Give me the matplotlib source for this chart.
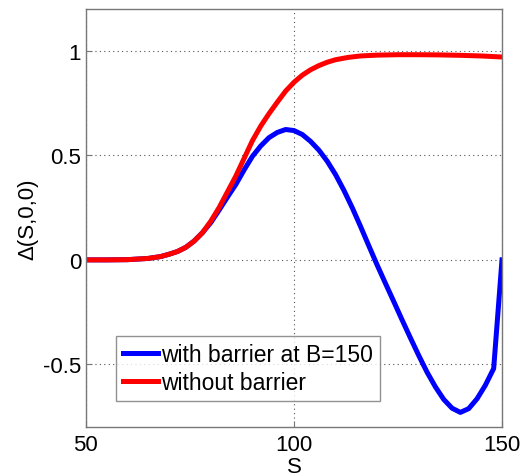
import matplotlib
matplotlib.use("Agg")
import matplotlib.pyplot as plt

plt.rcParams['font.family'] = ['Liberation Sans', 'DejaVu Sans']

# Delta of the option at t=0 as a function of the spot price S
s_vanilla = [50, 55, 60, 65, 68, 70, 72, 74, 76, 78, 80, 82, 84, 86, 88, 90,
             92, 94, 96, 98, 100, 102, 104, 106, 108, 110, 113, 116, 120,
             125, 130, 135, 140, 145, 150]
delta_vanilla = [0.0, 0.0, 0.001, 0.007, 0.016, 0.027, 0.04, 0.06, 0.09, 0.13,
                 0.185, 0.25, 0.325, 0.40, 0.485, 0.57, 0.64, 0.70, 0.755, 0.808,
                 0.85, 0.884, 0.91, 0.93, 0.946, 0.958, 0.969, 0.976, 0.98,
                 0.982, 0.982, 0.981, 0.979, 0.976, 0.971]

s_barrier = [50, 55, 60, 65, 68, 70, 72, 74, 76, 78, 80, 82, 84, 86, 88, 90,
             92, 94, 96, 98, 100, 102, 104, 106, 108, 110, 112, 114, 116, 118,
             120, 122, 124, 126, 128, 130, 132, 134, 136, 138, 140, 142, 144,
             146, 148, 150]
delta_barrier = [0.0, 0.0, 0.001, 0.007, 0.016, 0.027, 0.04, 0.06, 0.09, 0.13,
                 0.178, 0.238, 0.30, 0.36, 0.43, 0.495, 0.545, 0.585, 0.61, 0.624,
                 0.619, 0.60, 0.567, 0.525, 0.472, 0.408, 0.333, 0.25, 0.16, 0.067,
                 -0.025, -0.113, -0.20, -0.288, -0.374, -0.458, -0.538, -0.608, -0.668,
                 -0.71, -0.73, -0.712, -0.665, -0.60, -0.52, 0.0]

x_ticks = [50, 100, 150]
y_ticks = [-0.5, 0, 0.5, 1]
y_tick_labels = ['-0.5', '0', '0.5', '1']

fig = plt.figure(figsize=(5.24, 4.77), dpi=100)
ax = fig.add_axes([0.164, 0.1027, 0.794, 0.876])

ax.plot(s_barrier, delta_barrier, color='#0000ff', lw=3.6,
        label='with barrier at B=150', solid_joinstyle='round')
ax.plot(s_vanilla, delta_vanilla, color='#ff0000', lw=3.6,
        label='without barrier', solid_joinstyle='round')

ax.set_xlim(50, 150)
ax.set_ylim(-0.8, 1.2)
ax.set_xticks(x_ticks)
ax.set_xticklabels([str(t) for t in x_ticks])
ax.set_yticks(y_ticks)
ax.set_yticklabels(y_tick_labels)

ax.grid(True, linestyle=(0, (1, 3)), color='#555555', lw=0.8)
ax.tick_params(direction='in', length=4, width=0.8, color='#777777',
               labelsize=16)
ax.tick_params(axis='x', pad=5)
ax.tick_params(axis='y', pad=3.5)
for sp in ax.spines.values():
    sp.set_color('#777777')
    sp.set_linewidth(1.0)

ax.set_xlabel('S', fontsize=16, labelpad=0.5)
ax.set_ylabel('Δ(S,0,0)', fontsize=16, labelpad=3)

leg = ax.legend(loc='lower left', bbox_to_anchor=(0.072, 0.063), fontsize=16.5,
                frameon=True, fancybox=False, handlelength=1.55,
                handletextpad=0.12, borderpad=0.3, labelspacing=0.2,
                borderaxespad=0)
leg.get_frame().set_edgecolor('#777777')
leg.get_frame().set_linewidth(1.0)

fig.savefig('out.png', dpi=100)
